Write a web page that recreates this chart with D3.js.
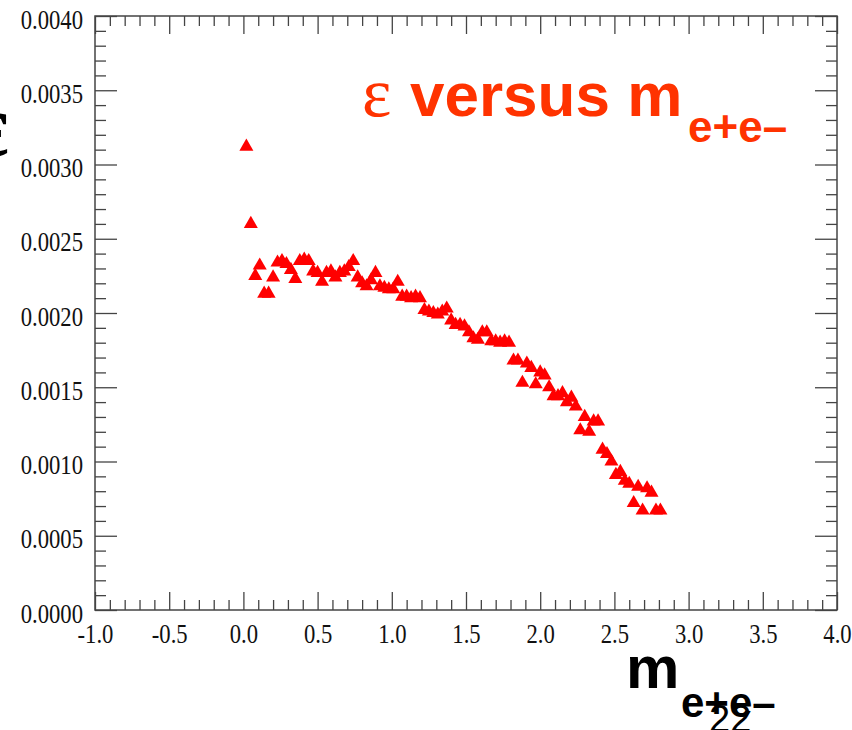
<!DOCTYPE html>
<html>
<head>
<meta charset="utf-8">
<script src="https://cdn.jsdelivr.net/npm/d3@7"></script>
<style>
  body { margin: 0; background: #fff; }
  svg { display: block; }
</style>
</head>
<body>
<div id="chart"></div>
<script>
// invariant mass bins (GeV) and efficiency
var massValues = [
    0.02, 0.05, 0.08, 0.11, 0.14, 0.17, 0.20, 0.23, 0.26, 0.29,
    0.32, 0.35, 0.38, 0.41, 0.44, 0.47, 0.50, 0.53, 0.56, 0.59,
    0.62, 0.65, 0.68, 0.71, 0.74, 0.77, 0.80, 0.83, 0.86, 0.89,
    0.92, 0.95, 0.98, 1.01, 1.04, 1.07, 1.10, 1.13, 1.16, 1.19,
    1.22, 1.25, 1.28, 1.31, 1.34, 1.37, 1.40, 1.43, 1.46, 1.49,
    1.52, 1.55, 1.58, 1.61, 1.64, 1.67, 1.70, 1.73, 1.76, 1.79,
    1.82, 1.85, 1.88, 1.91, 1.94, 1.97, 2.00, 2.03, 2.06, 2.09,
    2.12, 2.15, 2.18, 2.21, 2.24, 2.27, 2.30, 2.33, 2.36, 2.39,
    2.42, 2.45, 2.48, 2.51, 2.54, 2.57, 2.60, 2.63, 2.66, 2.69,
    2.72, 2.75, 2.78, 2.81
];
var effValues = [
    0.00312, 0.00260, 0.00225, 0.00232, 0.00213, 0.00213, 0.00224, 0.00234, 0.00235, 0.00233,
    0.00229, 0.00223, 0.00235, 0.00236, 0.00235, 0.00228, 0.00227, 0.00221, 0.00227, 0.00228,
    0.00224, 0.00227, 0.00228, 0.00231, 0.00235, 0.00224, 0.00220, 0.00218, 0.00222, 0.00227,
    0.00218, 0.00217, 0.00216, 0.00216, 0.00221, 0.00211, 0.00211, 0.00210, 0.00211, 0.00210,
    0.00202, 0.00201, 0.00200, 0.00199, 0.00201, 0.00203, 0.00195, 0.00192, 0.00192, 0.00191,
    0.00187, 0.00183, 0.00182, 0.00187, 0.00187, 0.00181, 0.00181, 0.00180, 0.00181, 0.00180,
    0.00168, 0.00168, 0.00153, 0.00166, 0.00163, 0.00152, 0.00160, 0.00158, 0.00150, 0.00144,
    0.00144, 0.00146, 0.00140, 0.00143, 0.00137, 0.00121, 0.00130, 0.00120, 0.00127, 0.00127,
    0.00108, 0.00105, 0.00100, 0.00091, 0.00093, 0.00087, 0.00085, 0.00072, 0.00083, 0.00067,
    0.00082, 0.00079, 0.00067, 0.00067
];
var xTicks = [-1.0, -0.5, 0.0, 0.5, 1.0, 1.5, 2.0, 2.5, 3.0, 3.5, 4.0];
var yTicks = [0.0000, 0.0005, 0.0010, 0.0015, 0.0020, 0.0025, 0.0030, 0.0035, 0.0040];

var width = 852, height = 730;
var margin = { top: 16, right: 15, bottom: 120, left: 95 };
var innerW = width - margin.left - margin.right,
    innerH = height - margin.top - margin.bottom;
var axisColor = "#444";
var labelScale = 0.84; // tick labels in the plot are narrow and tall

var svg = d3.select("#chart").append("svg")
    .attr("width", width)
    .attr("height", height)
    .style("background", "#fff");

var x = d3.scaleLinear().domain([-1, 4]).range([margin.left, margin.left + innerW]);
var y = d3.scaleLinear().domain([0, 0.004]).range([margin.top + innerH, margin.top]);

// minor ticks every 0.1 on x and 0.0001 on y
var xMinor = d3.range(-10, 41).map(d => d / 10).filter(d => Math.abs(d * 2 - Math.round(d * 2)) > 1e-6);
var yMinor = d3.range(0, 41).map(d => d / 10000).filter(d => Math.round(d * 10000) % 5 != 0);

// plain hyphen for negatives, like the original
var fmtX = d => d3.format(".1f")(d).replace("−", "-");
var fmtY = d => d3.format(".4f")(d);

function styleAxis(g) {
    g.select(".domain").remove();
    g.selectAll("line").attr("stroke", axisColor).attr("stroke-width", 1.3);
    g.selectAll("text")
        .attr("fill", "#111")
        .style("font-family", "'Liberation Serif', 'Times New Roman', serif")
        .style("font-size", "27px");
}

// bottom
svg.append("g")
    .attr("transform", "translate(0," + y(0) + ")")
    .call(d3.axisBottom(x).tickValues(xMinor).tickSize(-10).tickFormat(""))
    .call(styleAxis);
var bottomAxis = svg.append("g")
    .attr("transform", "translate(0," + y(0) + ")")
    .call(d3.axisBottom(x).tickValues(xTicks).tickSize(-18).tickPadding(14).tickFormat(fmtX))
    .call(styleAxis);
bottomAxis.selectAll("text").attr("transform", "scale(" + labelScale + ",1)");
// top
svg.append("g")
    .attr("transform", "translate(0," + y(0.004) + ")")
    .call(d3.axisTop(x).tickValues(xMinor).tickSize(-10).tickFormat(""))
    .call(styleAxis);
svg.append("g")
    .attr("transform", "translate(0," + y(0.004) + ")")
    .call(d3.axisTop(x).tickValues(xTicks).tickSize(-18).tickFormat(""))
    .call(styleAxis);
// left
svg.append("g")
    .attr("transform", "translate(" + x(-1) + ",0)")
    .call(d3.axisLeft(y).tickValues(yMinor).tickSize(-11).tickFormat(""))
    .call(styleAxis);
var leftAxis = svg.append("g")
    .attr("transform", "translate(" + x(-1) + ",0)")
    .call(d3.axisLeft(y).tickValues(yTicks).tickSize(-22).tickFormat(fmtY))
    .call(styleAxis);
leftAxis.selectAll("text")
    .attr("x", -12 / labelScale)
    .attr("dy", "0.45em")
    .attr("transform", "scale(" + labelScale + ",1)");
// right
svg.append("g")
    .attr("transform", "translate(" + x(4) + ",0)")
    .call(d3.axisRight(y).tickValues(yMinor).tickSize(-11).tickFormat(""))
    .call(styleAxis);
svg.append("g")
    .attr("transform", "translate(" + x(4) + ",0)")
    .call(d3.axisRight(y).tickValues(yTicks).tickSize(-22).tickFormat(""))
    .call(styleAxis);

// frame
svg.append("rect")
    .attr("x", x(-1))
    .attr("y", y(0.004))
    .attr("width", x(4) - x(-1))
    .attr("height", y(0) - y(0.004))
    .attr("fill", "none")
    .attr("stroke", axisColor)
    .attr("stroke-width", 1.5);

// markers
var points = d3.zip(massValues, effValues);
svg.append("g")
    .selectAll("path")
    .data(points)
    .enter().append("path")
    .attr("d", d3.symbol().type(d3.symbolTriangle).size(85))
    .attr("transform", d => "translate(" + x(d[0]) + "," + y(d[1]) + ")")
    .attr("fill", "#ff0000");

// title inside the frame
var title = svg.append("text")
    .attr("fill", "#ff3300")
    .attr("y", 116);
title.append("tspan")
    .attr("x", 362)
    .style("font-family", "'Liberation Serif', serif")
    .style("font-size", "70px")
    .text("ε");
title.append("tspan")
    .attr("x", 410)
    .style("font-family", "'Liberation Sans', Arial, sans-serif")
    .style("font-weight", "bold")
    .style("font-size", "62px")
    .text("versus m");
title.append("tspan")
    .attr("x", 688)
    .attr("y", 142)
    .style("font-family", "'Liberation Sans', Arial, sans-serif")
    .style("font-weight", "bold")
    .style("font-size", "44px")
    .text("e+e–");

// y axis label, mostly outside the page
svg.append("text")
    .attr("x", 9)
    .attr("y", 156)
    .attr("text-anchor", "end")
    .style("font-family", "'Liberation Serif', serif")
    .style("font-weight", "bold")
    .style("font-size", "90px")
    .attr("fill", "#000")
    .text("ε");

// x axis label
var xLabel = svg.append("g")
    .style("font-family", "'Liberation Sans', Arial, sans-serif")
    .attr("fill", "#000");
xLabel.append("text")
    .attr("x", 626)
    .attr("y", 688)
    .style("font-weight", "bold")
    .style("font-size", "60px")
    .text("m");
xLabel.append("text")
    .attr("x", 681)
    .attr("y", 717)
    .style("font-weight", "bold")
    .style("font-size", "42px")
    .text("e+e–");
xLabel.append("text")
    .attr("x", 709)
    .attr("y", 732)
    .style("font-size", "38px")
    .text("22");
</script>
</body>
</html>
